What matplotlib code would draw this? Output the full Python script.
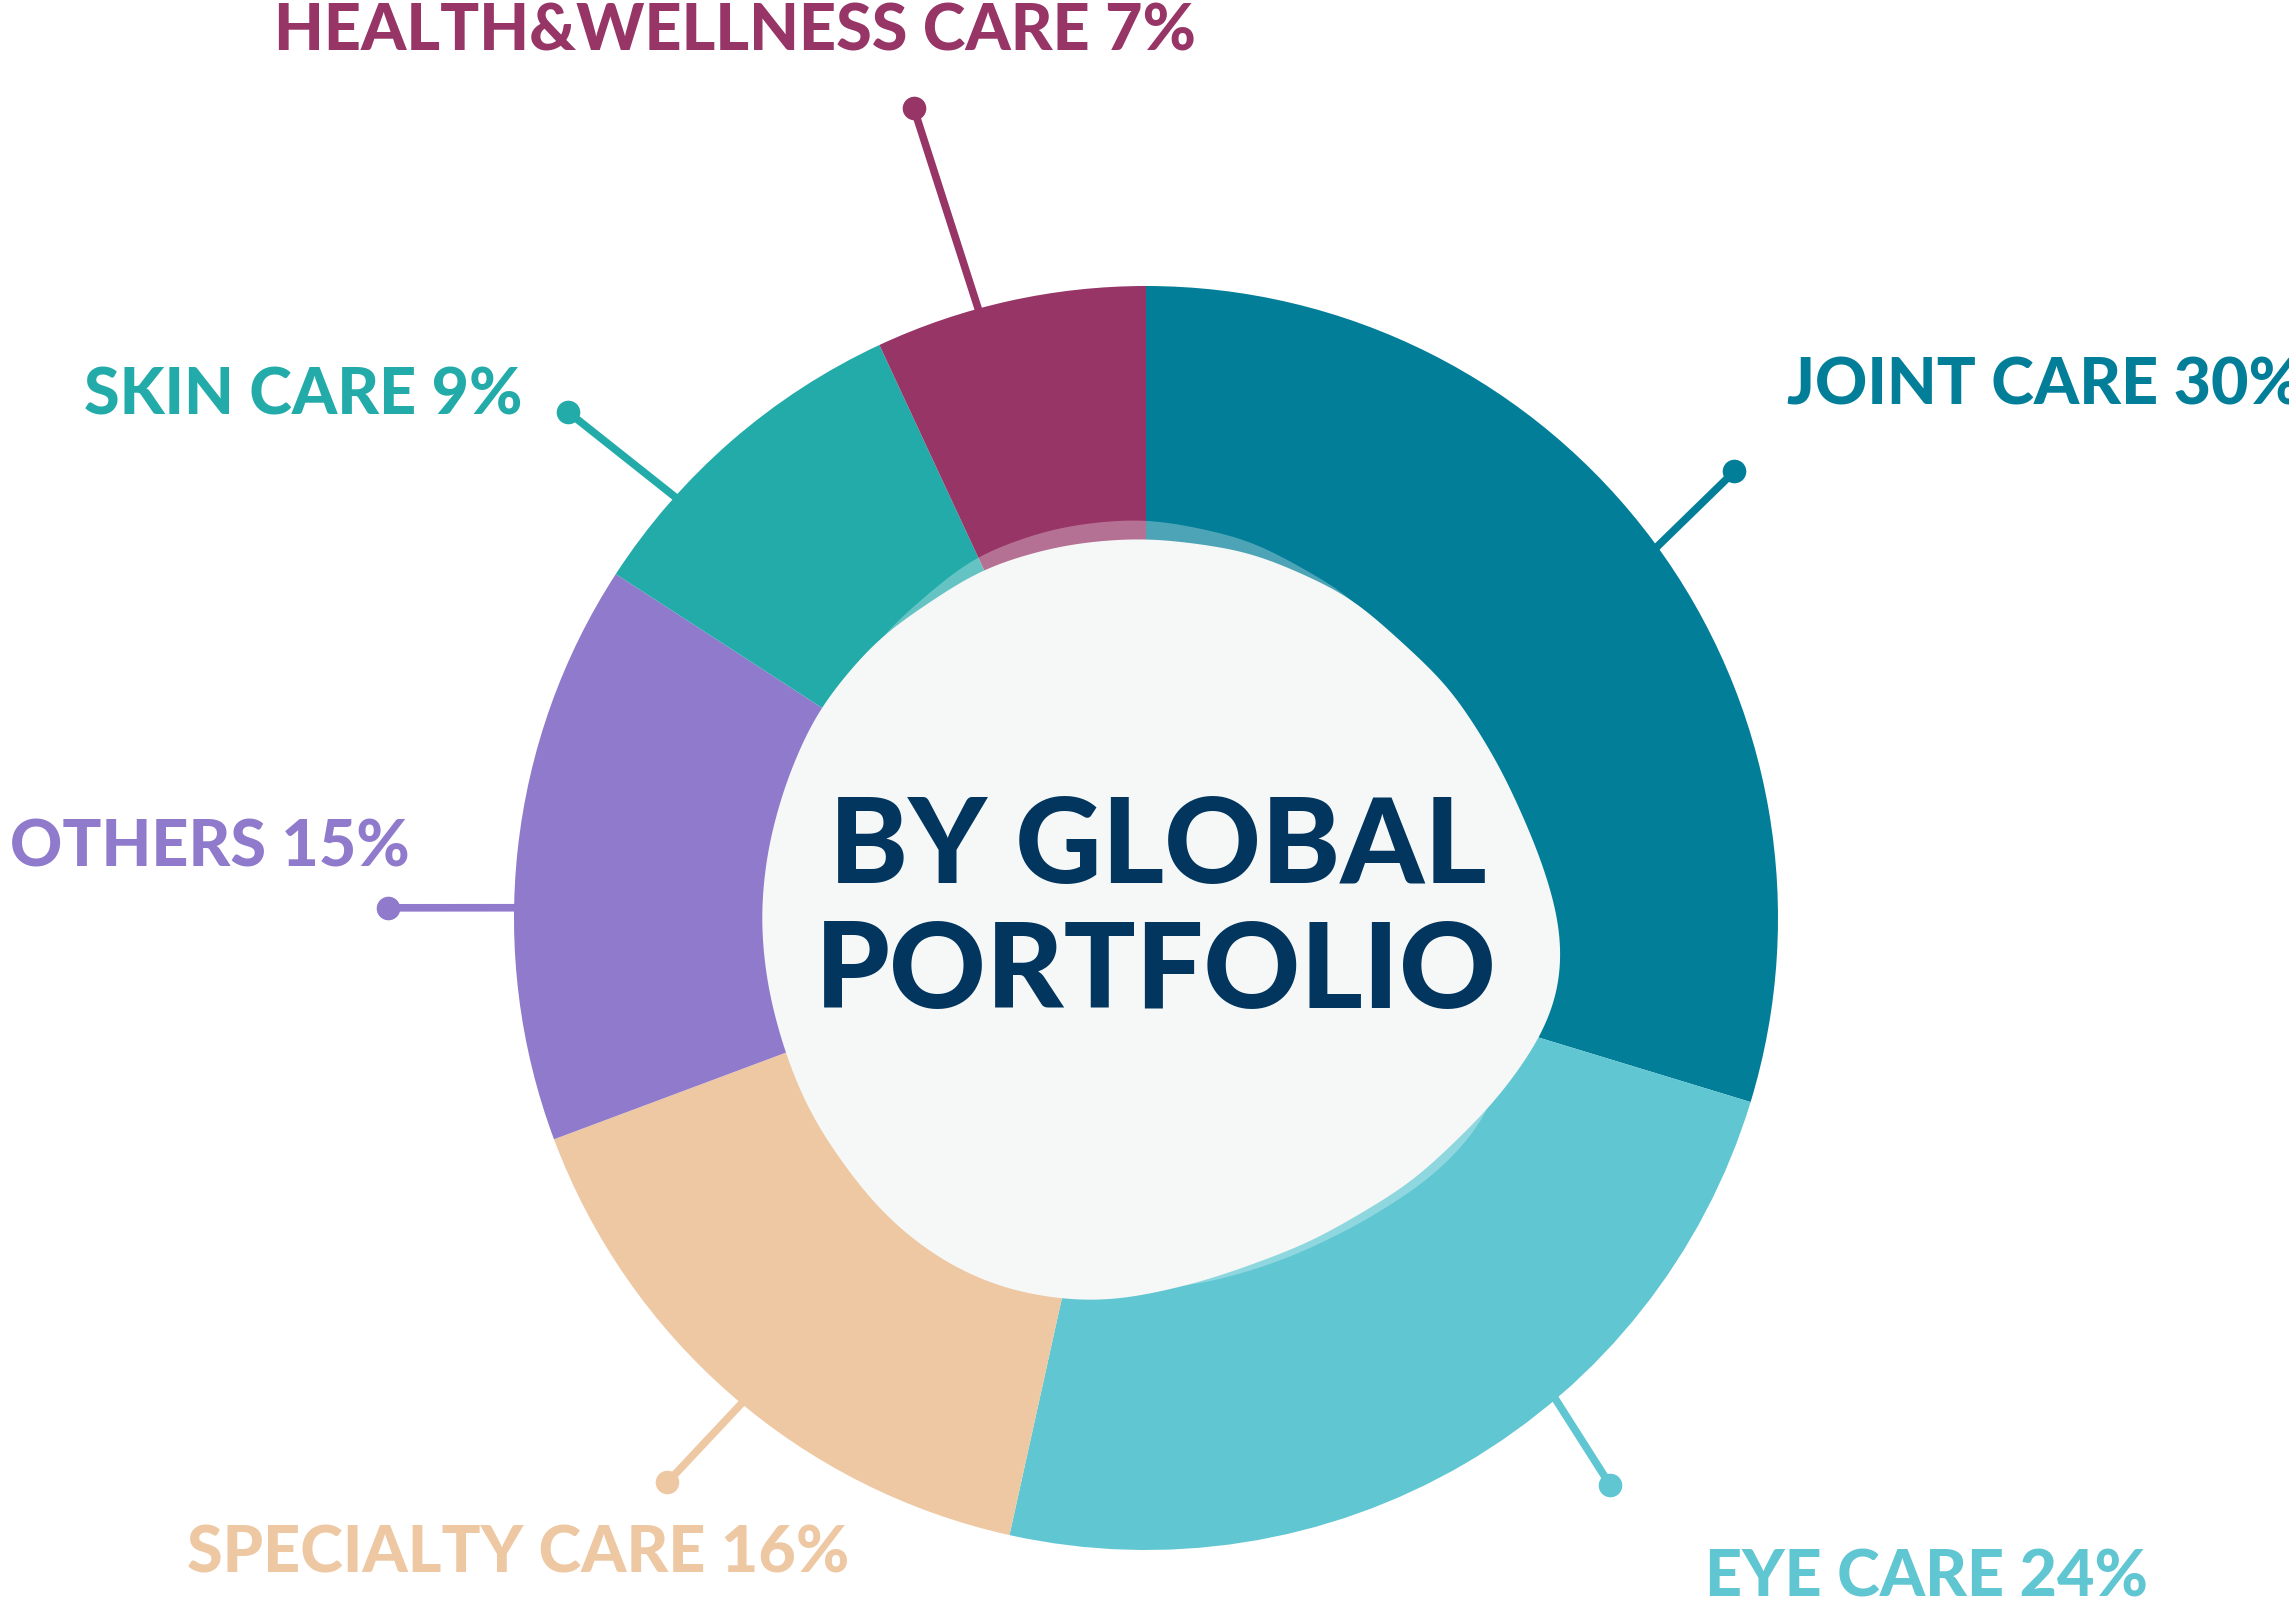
import numpy as np
import matplotlib
matplotlib.use("Agg")
import matplotlib.pyplot as plt
from matplotlib.patches import Polygon

# data
labels = ["JOINT CARE", "EYE CARE", "SPECIALTY CARE", "OTHERS", "SKIN CARE", "HEALTH&WELLNESS CARE"]
shares = [30, 24, 16, 15, 9, 7]
colors = ["#027e99", "#60c6d2", "#edc8a3", "#8f7acb", "#23abaa", "#963566"]

# call-out layout: leader start angle on ring, dot angle, dot radius, label x, label baseline y
start_ang = [36.0, -49.6, -129.8, 179.07, 138.2, 105.4]
dot_ang = [37.2, -50.7, -130.3, 179.23, 138.8, 106.0]
dot_r = [1.169, 1.160, 1.171, 1.199, 1.216, 1.333]
lab_x = [1.015, 0.885, -1.517, -1.797, -1.681, -1.379]
lab_y = [0.812, -1.073, -1.035, 0.081, 0.796, 1.372]

# outline of the centre blob (pie units)
blob = [(0, 0.603), (0.165, 0.581), (0.323, 0.511), (0.481, 0.367), (0.560, 0.242),
        (0.619, 0.111), (0.650, 0.017), (0.660, -0.044), (0.655, -0.120),
        (0.623, -0.195), (0.55, -0.295), (0.422, -0.419), (0.261, -0.514),
        (0.100, -0.573), (-0.013, -0.600), (-0.078, -0.608), (-0.134, -0.604),
        (-0.223, -0.589), (-0.320, -0.546), (-0.408, -0.478), (-0.465, -0.410),
        (-0.530, -0.315), (-0.570, -0.220), (-0.600, -0.11), (-0.611, 0.0),
        (-0.60, 0.11), (-0.570, 0.218), (-0.521, 0.329), (-0.424, 0.445),
        (-0.261, 0.554), (-0.13, 0.592)]
halo = [(0, 0.634), (0.165, 0.600), (0.334, 0.505), (0.44, 0.36), (0.55, 0.15),
        (0.58, 0.0), (0.57, -0.2), (0.55, -0.30), (0.50, -0.365), (0.448, -0.415),
        (0.342, -0.483), (0.222, -0.541), (0.100, -0.578), (0.0, -0.59),
        (-0.13, -0.59), (-0.3, -0.525), (-0.45, -0.41), (-0.55, -0.22),
        (-0.59, 0.0), (-0.55, 0.22), (-0.424, 0.445), (-0.274, 0.573), (-0.14, 0.62)]


def smooth(pts, n=800, sigma=10):
    # resample the closed outline evenly, then blur it round the loop
    p = np.array(pts + pts[:1])
    seg = np.hypot(*np.diff(p, axis=0).T)
    s = np.concatenate([[0], np.cumsum(seg)])
    u = np.linspace(0, s[-1], n, endpoint=False)
    xy = np.column_stack([np.interp(u, s, p[:, 0]), np.interp(u, s, p[:, 1])])
    k = np.arange(-4 * sigma, 4 * sigma + 1)
    g = np.exp(-0.5 * (k / sigma) ** 2)
    g /= g.sum()
    out = np.zeros_like(xy)
    for i, w in zip(k, g):
        out += w * np.roll(xy, i, axis=0)
    return out


W, H = 2289, 1614
fig = plt.figure(figsize=(W / 100, H / 100), dpi=100)
ax = fig.add_axes([0, 0, 1, 1])

ax.pie(shares, colors=colors, startangle=90, counterclock=False, radius=1,
       wedgeprops=dict(linewidth=0))

ax.add_patch(Polygon(smooth(halo), closed=True, facecolor="white", alpha=0.3,
                     edgecolor="none", zorder=3))
ax.add_patch(Polygon(smooth(blob), closed=True, facecolor="#f6f8f7",
                     edgecolor="none", zorder=4))

for lab, s, c, a0, a1, r, x, y in zip(labels, shares, colors, start_ang, dot_ang, dot_r, lab_x, lab_y):
    p0 = np.array([np.cos(np.deg2rad(a0)), np.sin(np.deg2rad(a0))])
    p1 = r * np.array([np.cos(np.deg2rad(a1)), np.sin(np.deg2rad(a1))])
    d = (p1 - p0) / np.linalg.norm(p1 - p0)
    p0 = p0 - 0.08 * d
    ax.plot([p0[0], p1[0]], [p0[1], p1[1]], color=c, lw=5.5, zorder=0, solid_capstyle="butt")
    ax.plot(p1[0], p1[1], "o", color=c, ms=17, mew=0, zorder=1)
    ax.text(x, y, f"{lab} {s}%", color=c, fontsize=46.5, family="Lato",
            fontweight="black", ha="left", va="baseline", zorder=6)

ax.text(0.018, 0.055, "BY GLOBAL", color="#02365f", fontsize=86, family="Lato",
        fontweight="black", ha="center", va="baseline", zorder=6)
ax.text(0.016, -0.143, "PORTFOLIO", color="#02365f", fontsize=86, family="Lato",
        fontweight="black", ha="center", va="baseline", zorder=6)

# pie centre at (1146, 918) px, radius 632 px
R, cx, cy = 632, 1146, 918
ax.set_xlim(-cx / R, (W - cx) / R)
ax.set_ylim(-(H - cy) / R, cy / R)
ax.set_aspect("auto")
ax.axis("off")

fig.savefig("out.png", dpi=100, facecolor="white")
